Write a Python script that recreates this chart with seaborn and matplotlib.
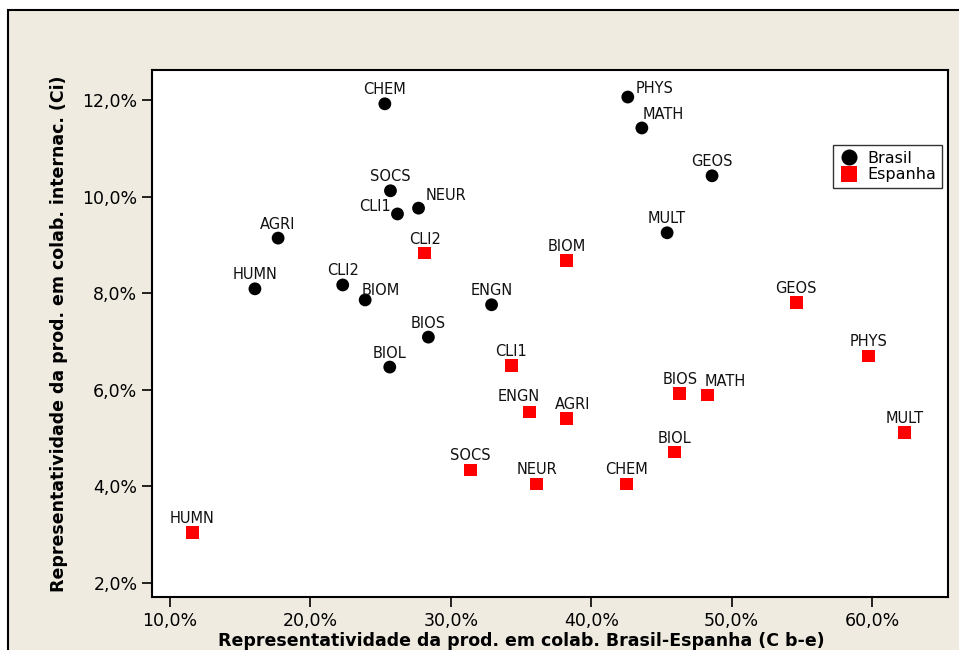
import matplotlib.pyplot as plt
import matplotlib.patches as mpatches
from matplotlib.ticker import FuncFormatter
import pandas as pd
import seaborn as sns

# Brasil (black circles)
brasil_areas = ['CHEM', 'PHYS', 'MATH', 'GEOS', 'SOCS', 'NEUR', 'CLI1', 'AGRI',
                'MULT', 'HUMN', 'CLI2', 'BIOM', 'ENGN', 'BIOS', 'BIOL']
brasil_cbe = [25.3, 42.6, 43.6, 48.6, 25.7, 27.7, 26.2, 17.7,
              45.4, 16.05, 22.3, 23.9, 32.9, 28.4, 25.65]
brasil_ci = [11.92, 12.06, 11.42, 10.43, 10.12, 9.76, 9.64, 9.14,
             9.25, 8.09, 8.17, 7.86, 7.76, 7.09, 6.47]

# Espanha (red squares)
espanha_areas = ['CLI2', 'BIOM', 'GEOS', 'PHYS', 'CLI1', 'BIOS', 'MATH', 'ENGN',
                 'AGRI', 'MULT', 'BIOL', 'SOCS', 'NEUR', 'CHEM', 'HUMN']
espanha_cbe = [28.15, 38.25, 54.6, 59.75, 34.3, 46.3, 48.3, 35.6,
               38.25, 62.3, 45.9, 31.4, 36.1, 42.5, 11.6]
espanha_ci = [8.83, 8.67, 7.80, 6.70, 6.51, 5.93, 5.89, 5.54,
              5.40, 5.11, 4.71, 4.34, 4.05, 4.05, 3.04]

df = pd.concat([
    pd.DataFrame({'area': brasil_areas, 'cbe': brasil_cbe, 'ci': brasil_ci, 'pais': 'Brasil'}),
    pd.DataFrame({'area': espanha_areas, 'cbe': espanha_cbe, 'ci': espanha_ci, 'pais': 'Espanha'}),
], ignore_index=True)

# label offsets in pixels (dx, dy, ha) where they differ from "centred above"
label_offsets = {
    ('Brasil', 'PHYS'): (8, 9, 'left'),
    ('Brasil', 'MATH'): (1, 13, 'left'),
    ('Brasil', 'NEUR'): (7, 13, 'left'),
    ('Brasil', 'CLI1'): (-7, 7, 'right'),
    ('Brasil', 'BIOM'): (-4, 9, 'left'),
    ('Espanha', 'MATH'): (17, 14, 'center'),
    ('Espanha', 'ENGN'): (-11, 15, 'center'),
    ('Espanha', 'AGRI'): (6, 14, 'center'),
}

sns.set_style('ticks')
plt.rcParams['font.family'] = ['DejaVu Sans']
plt.rcParams.update({'text.color': 'black', 'axes.labelcolor': 'black',
                     'xtick.color': 'black', 'ytick.color': 'black'})

fig = plt.figure(figsize=(9.59, 6.5), dpi=100, facecolor='white')
fig.patches.append(mpatches.Rectangle(
    (8 / 959, -0.1), 1.2, 1.1 - 10 / 650, transform=fig.transFigure,
    facecolor='#efebe1', edgecolor='black', linewidth=1.5, zorder=-10))

ax = fig.add_axes([152 / 959, 1 - 597 / 650, (948 - 152) / 959, (597 - 70) / 650])
ax.set_facecolor('white')

sns.scatterplot(data=df, x='cbe', y='ci', hue='pais', style='pais',
                palette={'Brasil': 'black', 'Espanha': '#ff0000'},
                markers={'Brasil': 'o', 'Espanha': 's'},
                s=85, linewidth=0, ax=ax, legend=True)

for _, row in df.iterrows():
    dx, dy, ha = label_offsets.get((row.pais, row.area), (0, 14, 'center'))
    ax.annotate(row.area, (row.cbe, row.ci), xytext=(dx, dy), textcoords='offset pixels',
                ha=ha, va='center', fontsize=10.5, color='#111111')

ax.set_xlim(8.72, 65.4)
ax.set_ylim(1.71, 12.62)
ax.set_xticks([10, 20, 30, 40, 50, 60])
ax.set_yticks([2, 4, 6, 8, 10, 12])
pct = FuncFormatter(lambda v, p: f'{v:.1f}%'.replace('.', ','))
ax.xaxis.set_major_formatter(pct)
ax.yaxis.set_major_formatter(pct)
ax.tick_params(axis='both', direction='out', length=7, width=1.2, labelsize=12.5, color='black')
for sp in ax.spines.values():
    sp.set_visible(True)
    sp.set_linewidth(1.5)
    sp.set_color('black')

ax.set_xlabel('')
ax.set_ylabel('Representatividade da prod. em colab. internac. (Ci)',
              fontsize=12.5, fontweight='bold', labelpad=10)
fig.text((170 + 872) / 2 / 959, 1 - 632 / 650,
         'Representatividade da prod. em colab. Brasil-Espanha (C b-e)',
         ha='center', va='top', fontsize=12.5, fontweight='bold')

leg = ax.legend(loc='upper right', bbox_to_anchor=(942 / 959, 1 - 145 / 650),
                bbox_transform=fig.transFigure, borderaxespad=0, frameon=True,
                fancybox=False, edgecolor='black', fontsize=11.5, title=None,
                handletextpad=0.5, borderpad=0.35, labelspacing=0.1, handlelength=1.3,
                markerscale=1.25)
leg.get_frame().set_linewidth(1.0)

fig.savefig('out.png', dpi=100, facecolor=fig.get_facecolor())
plt.close()
